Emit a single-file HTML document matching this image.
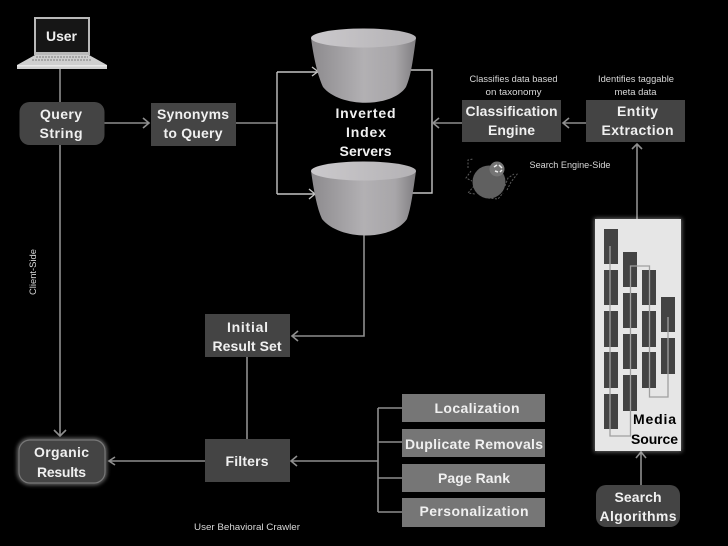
<!DOCTYPE html>
<html>
<head>
<meta charset="utf-8">
<style>
html,body{margin:0;padding:0;background:#000;width:728px;height:546px;overflow:hidden}
svg{display:block;filter:blur(0.35px)}
.t{font-family:"Liberation Sans",sans-serif;font-weight:bold;font-size:14px;fill:#f0f0f0;text-anchor:middle}
.s{font-family:"Liberation Sans",sans-serif;font-size:9.5px;fill:#d8d8d8;text-anchor:middle}
.l{stroke:#8e8e8e;stroke-width:1.6;fill:none}
.w{stroke:#c4c4c4;stroke-width:1.4;fill:none}
.b{fill:#444}
.g{fill:#767676}
.m{fill:#434343}
</style>
</head>
<body>
<svg width="728" height="546" viewBox="0 0 728 546" xmlns="http://www.w3.org/2000/svg">
<defs>
<linearGradient id="cyl" x1="0" y1="0" x2="1" y2="0">
<stop offset="0" stop-color="#8c8a8d"/>
<stop offset="0.5" stop-color="#b2b0b3"/>
<stop offset="0.8" stop-color="#a8a6a9"/>
<stop offset="1" stop-color="#807e81"/>
</linearGradient>
<linearGradient id="top" x1="0" y1="0" x2="1" y2="0">
<stop offset="0" stop-color="#cbc9cc"/>
<stop offset="1" stop-color="#b4b2b5"/>
</linearGradient>
<filter id="glow" x="-20%" y="-20%" width="140%" height="140%"><feGaussianBlur stdDeviation="2"/></filter>
</defs>
<rect width="728" height="546" fill="#000"/>

<!-- connectors -->
<path class="l" d="M60 69V102"/>
<path class="l" d="M60 145V436M54 430L60 436L66 430"/>
<path class="l" d="M104 123H149M143 118L149 123L143 128"/>
<path class="l" d="M236 123H277"/>
<path class="w" d="M277 72V194M277 72H318M277 194H315"/>
<path class="w" d="M312 67L318 71.500L312 76M309 189L315 194L309 199"/>
<path class="w" d="M411 70H432V193H412"/>
<path class="l" d="M432 123H462M439 118L433 123L439 128"/>
<path class="l" d="M586 123H563M569 118L563 123L569 128"/>
<path class="l" d="M637 219V144M632 149L637 144L642 149"/>
<path class="l" d="M641 485V452M636 458L641 452L646 458"/>
<path class="l" d="M364 235V336H292M298 331L292 336L298 341"/>
<path class="l" d="M247 357V439"/>
<path class="l" d="M205 461H109M115 457L109 461L115 465"/>
<path class="l" d="M378 461H291M297 456L291 461L297 466"/>
<path class="l" d="M378 408V512M378 408H402M378 442H402M378 478H402M378 512H402"/>

<!-- laptop -->
<rect x="34" y="17" width="56" height="38" fill="#b9b9b9"/>
<rect x="36" y="19" width="52" height="33" fill="#161616"/>
<polygon points="35,55 89,55 107,65 107,69 17,69 17,65" fill="#cfcfcf"/>
<path d="M36 57H88M32 60H92" stroke="#999" stroke-width="1.500" stroke-dasharray="2 1"/>
<rect x="17" y="65" width="90" height="1.500" fill="#e8e8e8"/>
<text class="t" x="61.500" y="41" textLength="31" lengthAdjust="spacing">User</text>

<!-- query -->
<rect x="19.500" y="102" width="85" height="43" rx="10" class="b"/>
<text class="t" x="61" y="119" textLength="42" lengthAdjust="spacing">Query</text>
<text class="t" x="61" y="138" textLength="43" lengthAdjust="spacing">String</text>

<rect x="151" y="103" width="85" height="43" class="b"/>
<text class="t" x="193" y="119" textLength="72" lengthAdjust="spacing">Synonyms</text>
<text class="t" x="193" y="138" textLength="59" lengthAdjust="spacing">to Query</text>

<!-- cylinders -->
<path d="M311 38C314 60 318 76 323 87C340 108 392 108 406 87C411 76 413 60 416 38Z" fill="url(#cyl)"/>
<ellipse cx="363.500" cy="38" rx="52.500" ry="9.500" fill="url(#top)"/>
<path d="M311 171C314 192 317 208 322 219C340 241 392 241 407 219C411 208 413 192 416 171Z" fill="url(#cyl)"/>
<ellipse cx="363.500" cy="171" rx="52.500" ry="9.500" fill="url(#top)"/>
<text class="t" x="365.500" y="118" textLength="60" lengthAdjust="spacing">Inverted</text>
<text class="t" x="366" y="137" textLength="40" lengthAdjust="spacing">Index</text>
<text class="t" x="365.500" y="156" textLength="52" lengthAdjust="spacing">Servers</text>

<!-- classification / entity -->
<rect x="462" y="100" width="99" height="42" class="b"/>
<text class="t" x="511.500" y="116" textLength="92" lengthAdjust="spacing">Classification</text>
<text class="t" x="511.500" y="135" textLength="47" lengthAdjust="spacing">Engine</text>
<rect x="586" y="100" width="99" height="42" class="b"/>
<text class="t" x="637.500" y="116" textLength="41" lengthAdjust="spacing">Entity</text>
<text class="t" x="637.500" y="135" textLength="72" lengthAdjust="spacing">Extraction</text>
<text class="s" x="513.500" y="82" textLength="88" lengthAdjust="spacingAndGlyphs">Classifies data based</text>
<text class="s" x="513.500" y="95" textLength="56" lengthAdjust="spacingAndGlyphs">on taxonomy</text>
<text class="s" x="636" y="82" textLength="76" lengthAdjust="spacingAndGlyphs">Identifies taggable</text>
<text class="s" x="635.500" y="95" textLength="42" lengthAdjust="spacingAndGlyphs">meta data</text>
<text class="s" x="570" y="168" textLength="81" lengthAdjust="spacingAndGlyphs">Search Engine-Side</text>

<!-- spider -->
<path d="M468 168V160L473 159M471 171L466 178L472 181M474 186L468 193L475 194M488 198L498 199L503 193M505 186L508 178L514 174M507 190L511 182L518 173" stroke="#5c5c5c" stroke-width="1" stroke-dasharray="2 1.500" fill="none"/>
<circle cx="489" cy="182" r="16.500" fill="#606060"/>
<circle cx="497" cy="169" r="7.500" fill="#757575"/>
<path d="M494 167L497 165M499 165L502 168M495 171L498 172M500 172L502 170" stroke="#eee" stroke-width="1.500" fill="none"/>

<!-- client-side -->
<text class="s" transform="translate(36 272) rotate(-90)" x="0" y="0" textLength="46" lengthAdjust="spacingAndGlyphs">Client-Side</text>

<!-- media source -->
<rect x="594" y="218" width="88" height="234" fill="#fff" opacity="0.4" filter="url(#glow)"/>
<rect x="595" y="219" width="86" height="232" fill="#e6e6e6"/>
<g class="m">
<rect x="604" y="229" width="14" height="35"/><rect x="604" y="270" width="14" height="35"/><rect x="604" y="311" width="14" height="36"/><rect x="604" y="352" width="14" height="36"/><rect x="604" y="394" width="14" height="35"/>
<rect x="623" y="252" width="14" height="35"/><rect x="623" y="293" width="14" height="35"/><rect x="623" y="334" width="14" height="35"/><rect x="623" y="375" width="14" height="36"/>
<rect x="642" y="270" width="14" height="35"/><rect x="642" y="311" width="14" height="36"/><rect x="642" y="352" width="14" height="36"/>
<rect x="661" y="297" width="14" height="35"/><rect x="661" y="338" width="14" height="36"/>
</g>
<path d="M610 246V436H630.500V266H649.500V397H668V317" stroke="#a0a0a0" stroke-width="1.300" fill="none"/>
<text class="t" x="654.500" y="424" style="fill:#000" textLength="43" lengthAdjust="spacing">Media</text>
<text class="t" x="654.500" y="444" style="fill:#000" textLength="47" lengthAdjust="spacing">Source</text>

<!-- search algorithms -->
<rect x="596" y="485" width="84" height="42" rx="10" class="b"/>
<text class="t" x="638" y="502" textLength="47" lengthAdjust="spacing">Search</text>
<text class="t" x="638" y="521" textLength="77" lengthAdjust="spacing">Algorithms</text>

<!-- initial / filters -->
<rect x="205" y="314" width="85" height="43" class="b"/>
<text class="t" x="247.500" y="332" textLength="41" lengthAdjust="spacing">Initial</text>
<text class="t" x="247" y="351" textLength="69" lengthAdjust="spacing">Result Set</text>
<rect x="205" y="439" width="85" height="43" class="b"/>
<text class="t" x="247" y="466" textLength="43" lengthAdjust="spacing">Filters</text>

<!-- organic -->
<rect x="19" y="440" width="86" height="43" rx="11" fill="none" stroke="#aaa" stroke-width="2.500" filter="url(#glow)"/>
<rect x="19" y="440" width="86" height="43" rx="11" fill="#444" stroke="#777" stroke-width="1.200"/>
<text class="t" x="61.500" y="457" textLength="55" lengthAdjust="spacing">Organic</text>
<text class="t" x="61.500" y="477" textLength="49" lengthAdjust="spacing">Results</text>

<!-- filters list -->
<rect x="402" y="394" width="143" height="28" class="g"/>
<rect x="402" y="429" width="143" height="28" class="g"/>
<rect x="402" y="464" width="143" height="28" class="g"/>
<rect x="402" y="498" width="143" height="29" class="g"/>
<text class="t" x="477" y="413" textLength="85" lengthAdjust="spacing">Localization</text>
<text class="t" x="474" y="449" textLength="138" lengthAdjust="spacing">Duplicate Removals</text>
<text class="t" x="474" y="483" textLength="72" lengthAdjust="spacing">Page Rank</text>
<text class="t" x="474" y="516" textLength="109" lengthAdjust="spacing">Personalization</text>

<text class="s" x="247" y="530" textLength="106" lengthAdjust="spacingAndGlyphs">User Behavioral Crawler</text>
</svg>
</body>
</html>
